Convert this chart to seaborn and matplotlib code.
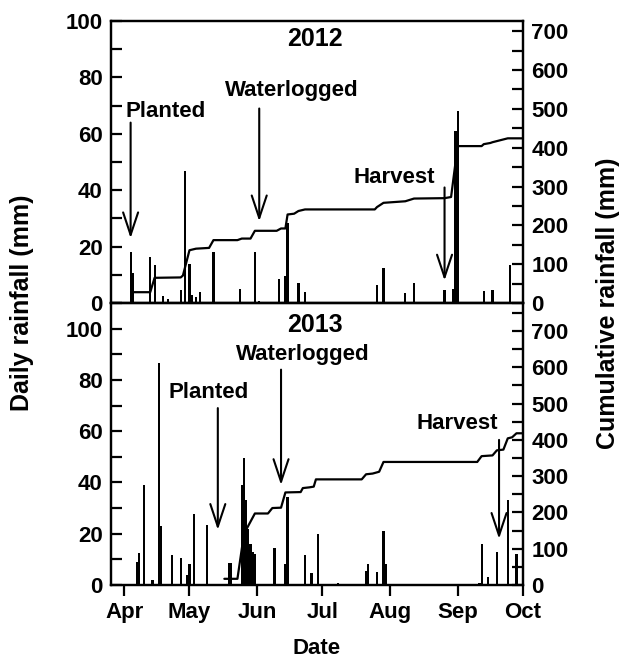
import numpy as np
import pandas as pd
import seaborn as sns
import matplotlib.pyplot as plt
from matplotlib.ticker import MultipleLocator, FuncFormatter

# ===============================
# DATA
# ===============================
rain_2012_dates = ["04-04", "04-05", "04-13", "04-15", "04-19", "04-21", "04-27", "04-29",
                   "05-01", "05-02", "05-04", "05-06", "05-12", "05-24", "05-31", "06-02",
                   "06-11", "06-14", "06-15", "06-20", "06-23", "07-26", "07-29", "08-08",
                   "08-12", "08-26", "08-30", "08-31", "09-01", "09-04", "09-13", "09-17",
                   "09-25"]
rain_2012_mm = [18, 10.5, 16.5, 13.5, 2.5, 1.5, 4.5, 47,
                14, 3, 2, 4, 18, 5, 18, 0.7,
                8.5, 9.5, 28.5, 7, 4, 6.5, 12.5, 3.5,
                7, 4.5, 5, 61, 68, 0.5, 4.3, 4.5,
                13.5]

rain_2013_dates = ["04-07", "04-08", "04-10", "04-14", "04-17", "04-18", "04-23", "04-27",
                   "04-30", "05-01", "05-03", "05-09", "05-19", "05-20", "05-25", "05-26",
                   "05-27", "05-28", "05-29", "05-30", "05-31", "06-09", "06-14", "06-15",
                   "06-23", "06-26", "06-29", "07-08", "07-21", "07-22", "07-26", "07-29",
                   "07-30", "09-11", "09-12", "09-15", "09-19", "09-24", "09-28"]
rain_2013_mm = [9, 12.5, 39, 2, 86.5, 23, 11.5, 10.5,
                4, 8, 27.5, 23.5, 8.5, 8.5, 39, 49.5,
                33, 22, 16, 13, 12, 14.5, 8, 34.5,
                11.5, 4.8, 20, 0.8, 5.5, 8, 5, 21,
                8, 0.6, 16, 3.3, 13, 33, 12]

cum_2012_dates = ["04-05", "04-13", "04-15", "04-27", "04-28", "05-01", "05-04", "05-10",
                  "05-12", "05-23", "05-25", "05-29", "05-31", "06-10", "06-12", "06-14",
                  "06-15", "06-18", "06-20", "06-23", "07-25", "07-26", "07-29", "08-08",
                  "08-12", "08-26", "08-29", "09-01", "09-12", "09-13", "09-16", "09-17",
                  "09-24", "10-01"]
cum_2012_mm = [28, 28, 65, 66, 71, 136, 140, 142,
               162, 162, 166, 166, 186, 186, 192, 192,
               228, 230, 237, 241, 241, 247, 258, 262,
               269, 270, 273, 404, 404, 409, 412, 414,
               424, 424]

cum_2013_dates = ["05-17", "05-23", "05-26", "05-31", "06-06", "06-08", "06-12", "06-14",
                  "06-21", "06-22", "06-25", "06-27", "06-28", "07-19", "07-21", "07-24",
                  "07-27", "07-29", "09-10", "09-12", "09-17", "09-19", "09-22", "09-24",
                  "09-26", "09-28", "10-01"]
cum_2013_mm = [17, 17, 141, 197, 197, 212, 213, 255,
               256, 267, 269, 271, 291, 291, 305, 307,
               312, 339, 339, 355, 357, 371, 373, 404,
               407, 418, 418]

month_labels = ["Apr", "May", "Jun", "Jul", "Aug", "Sep", "Oct"]
month_starts = ["04-01", "05-01", "06-01", "07-01", "08-01", "09-01", "10-01"]

# events: (label, arrow date, arrow tail, arrow head, text date, text y)
events_2012 = [("Planted", "04-04", 64, 23, "04-20", 68),
               ("Waterlogged", "06-02", 69, 29, "06-17", 75.5),
               ("Harvest", "08-26", 41, 8, "08-03", 44.7)]
events_2013 = [("Planted", "05-14", 69, 21.5, "05-10", 75),
               ("Waterlogged", "06-12", 84, 39, "06-22", 90),
               ("Harvest", "09-20", 56.6, 18, "09-01", 63)]


def season_day(md, year):
    return (pd.Timestamp(f"{year}-{md}") - pd.Timestamp(f"{year}-04-01")).days


# ===============================
# STYLE
# ===============================
sns.set_style("ticks")
plt.rcParams["font.family"] = ["Liberation Sans", "DejaVu Sans"]
plt.rcParams["font.weight"] = "bold"
plt.rcParams["axes.linewidth"] = 1.6
for key in ["text.color", "axes.labelcolor", "xtick.color", "ytick.color", "axes.edgecolor"]:
    plt.rcParams[key] = "black"

TICK_FS = 16

fig = plt.figure(figsize=(6.26, 6.72), dpi=100)
ax_top = fig.add_axes([0.1773, 0.549, 0.6582, 0.4196])
ax_bot = fig.add_axes([0.1773, 0.1295, 0.6582, 0.4196])

panels = [
    (ax_top, 2012, rain_2012_dates, rain_2012_mm, cum_2012_dates, cum_2012_mm, events_2012, 100, 725.7, 93.5),
    (ax_bot, 2013, rain_2013_dates, rain_2013_mm, cum_2013_dates, cum_2013_mm, events_2013, 110, 777, 101.6),
]

for ax, year, r_dates, r_mm, c_dates, c_mm, events, ymax, rmax, year_y in panels:
    daily = pd.DataFrame({"day": [season_day(d, year) for d in r_dates], "rain": r_mm})
    cum = pd.DataFrame({"day": [season_day(d, year) for d in c_dates], "cum": c_mm})

    sns.histplot(data=daily, x="day", weights="rain", discrete=True, shrink=1.0,
                 color="black", alpha=1, linewidth=0, ax=ax)
    ax.set_xlim(-6, 183)
    ax.set_ylim(0, ymax)
    ax.set_xlabel("")
    ax.set_ylabel("")
    ax.yaxis.set_major_locator(MultipleLocator(10))
    ax.yaxis.set_major_formatter(FuncFormatter(lambda v, p: f"{v:.0f}" if v % 20 == 0 else ""))
    ax.tick_params(axis="y", direction="in", length=8, width=1.6, labelsize=TICK_FS, pad=6)

    axr = ax.twinx()
    sns.lineplot(data=cum, x="day", y="cum", color="black", linewidth=1.6, ax=axr)
    axr.set_ylim(0, rmax)
    axr.set_xlim(-6, 183)
    axr.set_ylabel("")
    axr.yaxis.set_major_locator(MultipleLocator(50))
    axr.yaxis.set_major_formatter(FuncFormatter(lambda v, p: f"{v:.0f}" if v % 100 == 0 and v <= 700 else ""))
    axr.tick_params(axis="y", direction="in", length=8, width=1.6, labelsize=TICK_FS, pad=6)
    for s in axr.spines.values():
        s.set_linewidth(1.6)

    ax.text(87.7, year_y, str(year), ha="center", va="center", fontsize=18, fontweight="bold")
    for label, a_date, tail, head, t_date, t_y in events:
        xd = season_day(a_date, year)
        ax.annotate("", xy=(xd, head), xytext=(xd, tail),
                    arrowprops=dict(arrowstyle="->,head_length=0.9,head_width=0.3",
                                    lw=1.5, color="black", mutation_scale=18,
                                    shrinkA=0, shrinkB=0))
        ax.text(season_day(t_date, year), t_y, label, ha="center", va="center",
                fontsize=16, fontweight="bold")

ax_top.tick_params(axis="x", bottom=False, labelbottom=False)
ax_bot.set_xticks([season_day(m, 2013) for m in month_starts])
ax_bot.set_xticklabels(month_labels)
ax_bot.tick_params(axis="x", direction="out", length=8, width=1.6, labelsize=TICK_FS, pad=4)

fig.text(0.035, 0.549, "Daily rainfall (mm)", rotation=90, ha="center", va="center",
         fontsize=18, fontweight="bold")
fig.text(0.972, 0.549, "Cumulative rainfall (mm)", rotation=90, ha="center", va="center",
         fontsize=18, fontweight="bold")
fig.text(0.506, 0.035, "Date", ha="center", va="center", fontsize=16, fontweight="bold")

fig.savefig("out.png", dpi=100)
